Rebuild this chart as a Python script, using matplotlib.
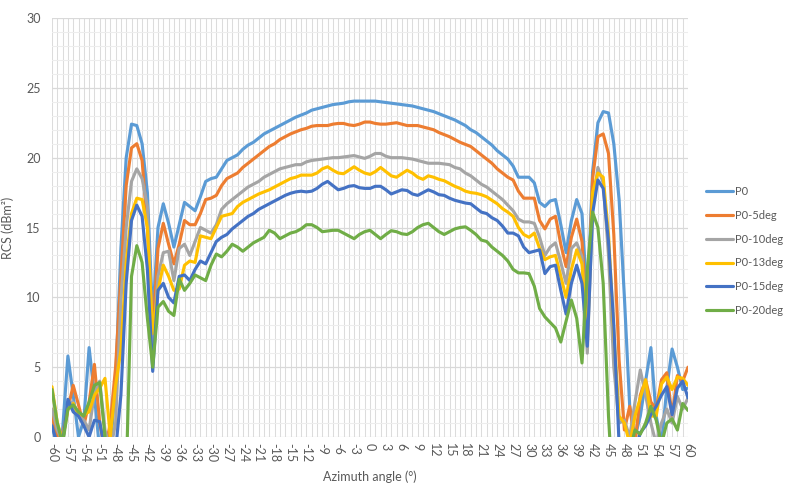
import matplotlib
matplotlib.use("Agg")
import matplotlib.pyplot as plt
from matplotlib.ticker import MultipleLocator

plt.rcParams['font.family'] = ['Lato', 'DejaVu Sans']

# azimuth categories, one per degree
angles = list(range(-60, 61))
tick_angles = list(range(-60, 61, 3))

# RCS values (dBm^2), -60..60 deg
p0 = [1.0, -1.0, 0.5, 5.8, 3.0, 0.0, 1.2, 6.4, 3.0, -1.0,
      -1.0, -1.0, 4.0, 13.5, 20.0, 22.4, 22.3, 21.0, 17.5, 8.5,
      15.0, 16.7, 15.3, 13.6, 15.2, 16.8, 16.5, 16.2, 17.2, 18.3,
      18.5, 18.6, 19.2, 19.8, 20.0, 20.2, 20.6, 20.9, 21.1, 21.4,
      21.7, 21.9, 22.1, 22.3, 22.5, 22.7, 22.9, 23.05, 23.2, 23.4,
      23.5, 23.6, 23.7, 23.8, 23.85, 23.9, 24.0, 24.05, 24.05, 24.05,
      24.05, 24.05, 24.0, 23.95, 23.9, 23.85, 23.8, 23.75, 23.7, 23.6,
      23.5, 23.4, 23.3, 23.15, 23.0, 22.85, 22.7, 22.5, 22.3, 22.0,
      21.8, 21.5, 21.2, 20.9, 20.5, 20.2, 19.9, 19.4, 18.6, 18.6,
      18.6, 18.2, 16.8, 16.5, 16.9, 17.0, 15.2, 13.2, 15.5, 17.0,
      16.0, 9.5, 19.0, 22.5, 23.3, 23.2, 21.0, 17.0, 10.0, 2.2,
      0.0, 1.5, 4.0, 6.4, 1.5, -0.5, 3.5, 6.3, 5.0, 3.4, 3.5]

p0_5deg = [1.5, 0.0, 0.2, 2.0, 3.7, 2.3, 0.8, 2.5, 5.2, 1.0,
           -1.0, 1.0, 5.0, 11.5, 18.0, 20.7, 21.0, 19.8, 15.0, 7.5,
           13.5, 15.3, 13.8, 12.4, 13.8, 15.5, 15.2, 15.2, 16.0, 17.0,
           17.1, 17.3, 18.0, 18.5, 18.7, 18.9, 19.3, 19.6, 19.9, 20.2,
           20.5, 20.8, 21.0, 21.3, 21.5, 21.7, 21.85, 22.0, 22.1, 22.25,
           22.3, 22.3, 22.3, 22.4, 22.45, 22.45, 22.35, 22.3, 22.4, 22.55,
           22.55, 22.45, 22.4, 22.4, 22.45, 22.5, 22.4, 22.3, 22.3, 22.3,
           22.2, 22.1, 22.0, 21.8, 21.65, 21.5, 21.3, 21.1, 20.95, 20.8,
           20.5, 20.2, 19.9, 19.6, 19.2, 18.9, 18.6, 18.4, 17.6, 17.1,
           17.1, 17.1, 15.5, 14.9, 15.6, 15.8, 13.8, 12.2, 14.3, 15.6,
           14.0, 8.0, 18.5, 21.5, 21.7, 20.3, 14.5, 5.5, 0.5, 2.2,
           -0.5, 3.0, 4.1, 2.5, 2.0, 4.1, 4.6, 1.5, 4.4, 4.0, 5.0]

p0_10deg = [2.0, 0.5, -0.3, 2.5, 2.5, 1.5, 1.2, 0.5, 3.1, 4.0,
            0.5, -1.0, 1.0, 9.8, 15.0, 18.3, 19.2, 18.5, 16.5, 6.5,
            11.5, 13.2, 13.3, 11.2, 13.5, 13.8, 13.0, 14.0, 15.0, 14.8,
            14.6, 15.2, 16.3, 16.7, 17.0, 17.3, 17.6, 17.9, 18.1, 18.3,
            18.6, 18.8, 19.0, 19.2, 19.3, 19.4, 19.5, 19.5, 19.7, 19.8,
            19.85, 19.9, 19.95, 20.0, 20.0, 20.05, 20.1, 20.15, 20.05, 19.95,
            20.1, 20.3, 20.3, 20.1, 20.0, 20.0, 20.0, 19.95, 19.9, 19.8,
            19.7, 19.6, 19.6, 19.6, 19.55, 19.5, 19.3, 19.2, 18.9, 18.7,
            18.4, 18.1, 17.9, 17.6, 17.3, 17.0, 16.6, 16.2, 15.6, 15.4,
            15.4, 15.3, 14.3, 13.0, 13.6, 13.9, 12.5, 11.0, 13.5, 13.9,
            12.9, 6.0, 16.5, 19.3, 18.2, 13.0, 5.0, 1.0, 1.2, 0.0,
            2.5, 4.8, 3.0, 1.0, -0.5, 1.0, 2.0, 1.0, 2.9, 2.0, 2.8]

p0_13deg = [3.6, 1.0, -0.2, 2.0, 2.4, 1.6, 1.6, 1.8, 3.0, 3.5,
            4.2, 0.0, 3.7, 6.2, 12.5, 16.0, 17.1, 17.0, 15.0, 7.4,
            10.5, 12.3, 11.5, 10.5, 10.6, 12.3, 12.6, 12.5, 14.4, 14.3,
            14.2, 15.0, 15.8, 15.9, 16.0, 16.5, 16.8, 17.0, 17.2, 17.4,
            17.55, 17.7, 17.9, 18.1, 18.3, 18.5, 18.6, 18.75, 18.75, 18.75,
            18.9, 19.2, 19.35, 19.1, 18.9, 18.85, 19.1, 19.35, 19.1, 18.9,
            18.8, 19.0, 19.3, 19.0, 18.7, 18.6, 18.85, 19.1, 18.9, 18.6,
            18.45, 18.7, 18.6, 18.45, 18.35, 18.15, 17.95, 17.8, 17.6, 17.5,
            17.45, 17.35, 17.2, 16.95, 16.7, 16.35, 16.1, 15.8, 15.0, 14.5,
            14.3, 14.6, 13.5, 12.7, 12.9, 13.0, 11.5, 10.0, 12.0, 13.4,
            12.4, 7.0, 17.5, 18.9, 18.6, 14.5, 7.5, 1.5, 1.0, -0.5,
            1.5, 2.8, 4.1, 1.5, 1.5, 3.8, 4.3, 3.4, 4.3, 4.2, 3.7]

p0_15deg = [0.8, -0.5, -0.5, 2.7, 1.8, 1.5, 0.8, 0.0, 1.2, 1.1,
            -1.0, -2.0, -1.0, 3.0, 11.0, 15.5, 16.6, 15.8, 12.0, 4.7,
            10.5, 11.0, 10.0, 9.6, 11.5, 11.6, 11.2, 12.0, 12.6, 12.4,
            13.2, 14.0, 14.3, 14.5, 14.9, 15.2, 15.5, 15.8, 16.0, 16.3,
            16.5, 16.7, 16.9, 17.1, 17.3, 17.45, 17.55, 17.6, 17.55, 17.6,
            17.8, 18.1, 18.3, 18.0, 17.7, 17.8, 17.95, 18.0, 17.85, 17.8,
            17.8, 17.95, 17.95, 17.7, 17.4, 17.55, 17.7, 17.65, 17.4, 17.3,
            17.5, 17.7, 17.55, 17.35, 17.3, 17.1, 16.95, 16.85, 16.75, 16.7,
            16.4, 16.1, 16.0, 15.7, 15.5, 15.1, 14.6, 14.6, 14.4, 13.6,
            13.2, 13.3, 13.4, 11.7, 12.2, 12.3, 10.5, 8.8, 11.0, 12.3,
            11.0, 6.5, 16.0, 18.4, 17.8, 14.0, 8.0, -0.5, -3.0, -3.0,
            -1.0, 0.3, 0.8, 1.6, 2.2, 3.0, 3.6, 1.6, 3.5, 4.0, 2.8]

p0_20deg = [3.4, 1.0, -0.5, 2.0, 2.3, 1.8, 1.5, 2.5, 3.7, 3.9,
            0.0, -2.0, -5.0, -5.0, -3.0, 11.5, 13.7, 12.5, 8.5, 5.0,
            9.3, 9.7, 9.0, 8.7, 11.3, 10.5, 11.0, 11.6, 11.4, 11.2,
            12.3, 13.1, 12.9, 13.3, 13.8, 13.6, 13.3, 13.6, 13.9, 14.1,
            14.3, 14.8, 14.6, 14.2, 14.4, 14.6, 14.7, 14.9, 15.2, 15.2,
            15.0, 14.7, 14.75, 14.8, 14.8, 14.6, 14.4, 14.2, 14.5, 14.7,
            14.8, 14.5, 14.2, 14.5, 14.77, 14.7, 14.55, 14.5, 14.7, 15.0,
            15.2, 15.3, 15.0, 14.7, 14.5, 14.7, 14.9, 15.0, 15.05, 14.8,
            14.5, 14.1, 14.0, 13.6, 13.3, 13.0, 12.6, 12.0, 11.75, 11.75,
            11.7, 10.8, 9.2, 8.6, 8.2, 7.8, 6.8, 8.3, 9.8, 8.5,
            5.3, 12.0, 16.1, 15.0, 11.0, 1.5, -5.0, -5.0, -5.0, -1.0,
            0.5, 0.2, 1.0, 2.2, 1.2, -0.5, 1.0, 1.3, 0.5, 2.4, 1.9]

series = [('P0', p0, '#5B9BD5'),
          ('P0-5deg', p0_5deg, '#ED7D31'),
          ('P0-10deg', p0_10deg, '#A5A5A5'),
          ('P0-13deg', p0_13deg, '#FFC000'),
          ('P0-15deg', p0_15deg, '#4472C4'),
          ('P0-20deg', p0_20deg, '#70AD47')]

text_color = '#595959'

fig = plt.figure(figsize=(7.88, 4.86), dpi=100)
ax = fig.add_axes([52 / 788, 1 - 437 / 486, (688 - 52) / 788, (437 - 18) / 486])

for name, vals, color in series:
    ax.plot(angles, vals, color=color, lw=2.25, label=name,
            solid_joinstyle='round', solid_capstyle='round')

ax.set_xlim(-60, 60)
ax.set_ylim(0, 30)
ax.set_xticks(tick_angles)
ax.set_xticklabels([str(a) for a in tick_angles], rotation=-90)
ax.xaxis.set_minor_locator(MultipleLocator(1))
ax.set_yticks(range(0, 31, 5))
ax.yaxis.set_minor_locator(MultipleLocator(1))

ax.grid(which='major', axis='y', color='#D9D9D9', lw=0.9)
ax.grid(which='minor', axis='y', color='#EDEDED', lw=0.8)
ax.grid(which='both', axis='x', color='#DCDCDC', lw=0.75)
ax.set_axisbelow(True)

for s in ax.spines.values():
    s.set_visible(False)
ax.tick_params(which='both', length=0, colors=text_color, labelsize=9)
ax.tick_params(axis='x', pad=4)
ax.tick_params(axis='y', pad=8)

ax.set_xlabel('Azimuth angle (°)', color=text_color, fontsize=9, labelpad=6)
ax.set_ylabel('RCS (dBm²)', color=text_color, fontsize=9)
ax.yaxis.set_label_coords(-38 / 636, 0.5)

fig.legend(loc='center left', bbox_to_anchor=(706 / 788, 1 - 251 / 486),
           frameon=False, fontsize=8, handlelength=2.4, handletextpad=0.2,
           labelspacing=1.15, borderpad=0, borderaxespad=0,
           labelcolor=text_color)

fig.savefig('out.png', dpi=100)
